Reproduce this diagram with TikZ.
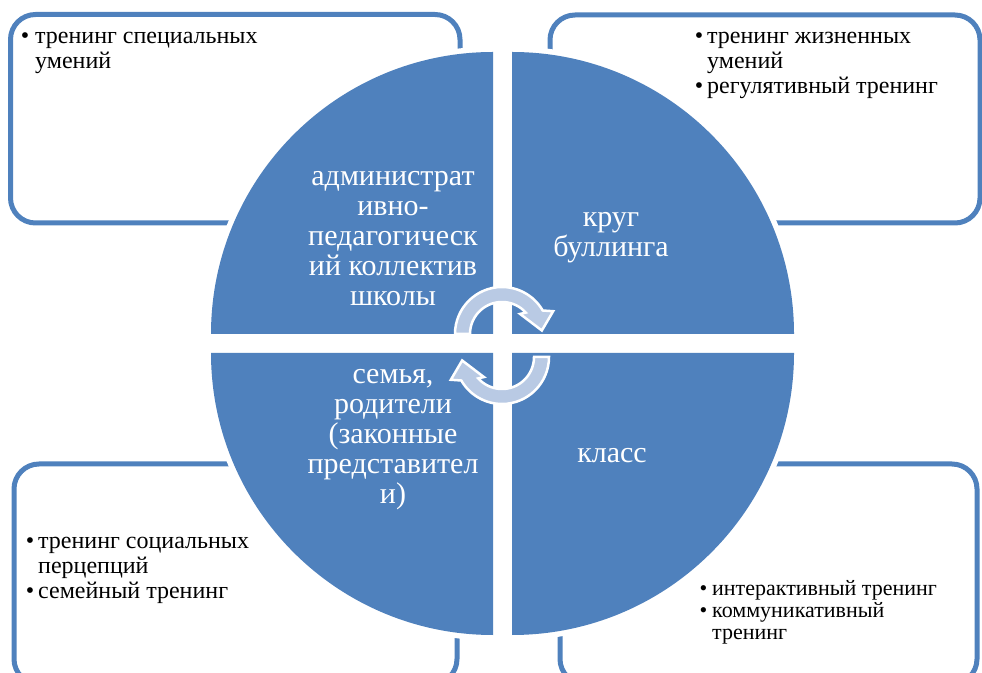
\documentclass[tikz,border=0pt]{standalone}
\usepackage{fontspec}
\setmainfont{Liberation Serif}
\definecolor{qblue}{RGB}{79,129,189}
\definecolor{arrfill}{RGB}{185,202,228}
\begin{document}
\begin{tikzpicture}[x=1pt,y=1pt,
  boxline/.style={draw=qblue, line width=5pt, rounded corners=25pt},
  quad/.style={fill=qblue},
  halo/.style={draw=white, line width=11pt},
  ctext/.style={text=white, align=center, font=\fontsize{30}{30}\selectfont, inner sep=0pt},
  btext/.style={align=left, anchor=north west, font=\fontsize{24}{25}\selectfont, inner sep=0pt},
  cyc/.style={fill=arrfill, draw=white, line width=2.5pt, line join=miter}]
\useasboundingbox (0,0) rectangle (982,672);
\clip (0,0) rectangle (982,672);
% outer boxes
\draw[boxline] (10.5,449) rectangle (460,657.5);
\draw[boxline] (550,449) rectangle (980,657);
\draw[boxline] (14,-12) rectangle (457,208);
\draw[boxline] (560,-12) rectangle (977,208);
% halos
\path[halo] (493,338) -- (211,338) arc[start angle=180,end angle=90,radius=282] -- cycle;
\path[halo] (512,338) -- (512,620) arc[start angle=90,end angle=0,radius=282] -- cycle;
\path[halo] (493,319) -- (211,319) arc[start angle=180,end angle=270,radius=282] -- cycle;
\path[halo] (512,319) -- (512,37) arc[start angle=270,end angle=360,radius=282] -- cycle;
% quadrants
\fill[quad] (493,338) -- (211,338) arc[start angle=180,end angle=90,radius=282] -- cycle;
\fill[quad] (512,338) -- (512,620) arc[start angle=90,end angle=0,radius=282] -- cycle;
\fill[quad] (493,319) -- (211,319) arc[start angle=180,end angle=270,radius=282] -- cycle;
\fill[quad] (512,319) -- (512,37) arc[start angle=270,end angle=360,radius=282] -- cycle;
% quadrant labels
\node[ctext] (q1) at (393,433) {администрат\\ивно-\\педагогическ\\ий коллектив\\школы};
\node[ctext] (q2) at (611,434) {круг\\буллинга};
\node[ctext] (q3) at (393,232) {семья,\\родители\\(законные\\представител\\и)};
\node[ctext] (q4) at (612,216) {класс};
% cycle arrows
\begin{scope}[shift={(502,338)}]
\draw[cyc] (180:47) arc[start angle=180,end angle=30,radius=47] -- (24:56) -- (5:40) -- (48:27) -- (42:32) arc[start angle=42,end angle=180,radius=32] -- cycle;
\end{scope}
\begin{scope}[shift={(502,315)},rotate=180]
\draw[cyc] (180:47) arc[start angle=180,end angle=30,radius=47] -- (24:56) -- (5:40) -- (48:27) -- (42:32) arc[start angle=42,end angle=180,radius=32] -- cycle;
\end{scope}
% box texts
\node[btext] (b1) at (35,646.5) {\strut\llap{•\hspace{6pt}}тренинг специальных\\умений};
\node[btext] (b2) at (707,646.5) {\strut\llap{•\hspace{4pt}}тренинг жизненных\\умений\\\llap{•\hspace{4pt}}регулятивный тренинг};
\node[btext] (b3) at (38,141.5) {\strut\llap{•\hspace{4pt}}тренинг социальных\\перцепций\\\llap{•\hspace{4pt}}семейный тренинг};
\node[btext, font=\fontsize{22}{21.5}\selectfont] (b4) at (712,92.1) {\strut\llap{•\hspace{5pt}}интерактивный тренинг\\\llap{•\hspace{5pt}}коммуникативный\\тренинг};
\end{tikzpicture}
\end{document}
